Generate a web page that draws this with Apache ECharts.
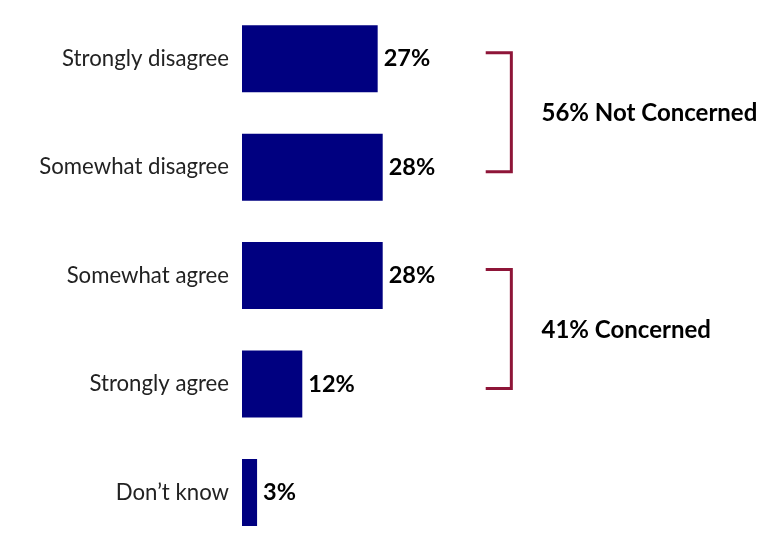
<!DOCTYPE html>
<html>
<head>
<meta charset="utf-8">
<script src="https://cdn.jsdelivr.net/npm/echarts@6/dist/echarts.min.js"></script>
<style>
html,body{margin:0;padding:0;background:#fff;}
#c{width:784px;height:556px;}
</style>
</head>
<body>
<div id="c"></div>
<script>
var categories = ['Strongly disagree', 'Somewhat disagree', 'Somewhat agree', 'Strongly agree', 'Don\u2019t know'];
var values = [27, 28, 28, 12, 3];
var bracketLabels = ['56% Not Concerned', '41% Concerned'];
var bracketFrom = [0, 2];
var bracketTo = [1, 3];
var bracketX = [53.6, 53.6];

var bracketData = bracketLabels.map(function (l, i) {
  return [bracketFrom[i], bracketTo[i], bracketX[i], l];
});

var chart = echarts.init(document.getElementById('c'), null, {renderer: 'canvas'});
var FONT = 'Lato';
var RED = '#8E1538';

chart.setOption({
  animation: false,
  backgroundColor: '#ffffff',
  grid: {left: 242, top: 4.6, width: 502.5, height: 542, containLabel: false},
  xAxis: {type: 'value', min: 0, max: 100, show: false},
  yAxis: {
    type: 'category', data: categories, inverse: true,
    axisLine: {show: false}, axisTick: {show: false},
    axisLabel: {fontFamily: FONT, fontSize: 22.2, color: '#222222', margin: 13}
  },
  series: [
    {
      type: 'bar', data: values, barWidth: 67,
      itemStyle: {color: '#000080'},
      label: {
        show: true, position: 'right', distance: 6,
        formatter: '{c}%', fontFamily: FONT, fontWeight: 'bold', fontSize: 23.5, color: '#000'
      }
    },
    {
      type: 'custom',
      data: bracketData,
      encode: {x: 2, y: 0},
      renderItem: function (params, api) {
        var i0 = api.value(0), i1 = api.value(1), xv = api.value(2);
        var p0 = api.coord([xv, i0]);
        var p1 = api.coord([xv, i1]);
        var arm = api.size([5.1, 0])[0];
        var y0 = p0[1] - 6, y1 = p1[1] + 4.5;
        var xr = p0[0];
        var tx = api.coord([59.6, i0])[0];
        return {
          type: 'group',
          children: [
            {
              type: 'polyline',
              shape: {points: [[xr - arm, y0], [xr, y0], [xr, y1], [xr - arm, y1]]},
              style: {stroke: RED, lineWidth: 3, fill: null}
            },
            {
              type: 'text',
              style: {
                text: bracketLabels[params.dataIndex],
                x: tx, y: (y0 + y1) / 2 + 1,
                align: 'left', verticalAlign: 'middle',
                fontFamily: FONT, fontWeight: 'bold', fontSize: 24, fill: '#000'
              }
            }
          ]
        };
      }
    }
  ]
});
</script>
</body>
</html>
